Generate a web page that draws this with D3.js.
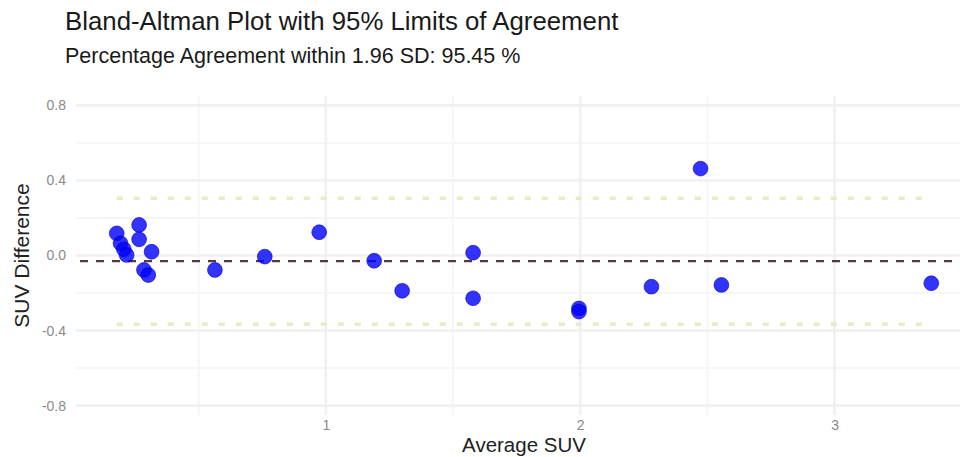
<!DOCTYPE html>
<html>
<head>
<meta charset="utf-8">
<script src="https://cdn.jsdelivr.net/npm/d3@7"></script>
<style>
  html, body { margin: 0; padding: 0; background: #ffffff; }
  svg { display: block; font-family: "Liberation Sans", Arial, Helvetica, sans-serif; }
</style>
</head>
<body>
<svg id="chart" width="960" height="457"></svg>
<script>
// Average of the two SUV measurements for each subject
const avgSUV = [0.178, 0.193, 0.206, 0.217, 0.266, 0.266, 0.315, 0.285, 0.302,
                0.564, 0.760, 0.974, 1.190, 1.300, 1.579, 1.579, 1.995, 1.995,
                2.280, 2.473, 2.555, 3.380];
// Difference between the two SUV measurements for each subject
const diffSUV = [0.118, 0.065, 0.033, 0.003, 0.163, 0.086, 0.020, -0.077, -0.104,
                 -0.077, -0.006, 0.124, -0.028, -0.188, 0.015, -0.228, -0.282, -0.299,
                 -0.166, 0.463, -0.157, -0.148];

const xTicks = [1, 2, 3];
const xMinor = [0.5, 1.5, 2.5, 3.5];
const yTicks = [-0.8, -0.4, 0, 0.4, 0.8];
const yTickLabels = ["-0.8", "-0.4", "0.0", "0.4", "0.8"];
const yMinor = [-0.6, -0.2, 0.2, 0.6];
const yLimits = [-0.85, 0.85];

const titleText = "Bland-Altman Plot with 95% Limits of Agreement";
const xTitle = "Average SUV";
const yTitle = "SUV Difference";

// Bland-Altman statistics
const meanDiff = d3.mean(diffSUV);
const sdDiff = d3.deviation(diffSUV);
const upperLoA = meanDiff + 1.96 * sdDiff;
const lowerLoA = meanDiff - 1.96 * sdDiff;
const within = diffSUV.filter(d => d >= lowerLoA && d <= upperLoA).length;
const pctWithin = (100 * within / diffSUV.length).toFixed(2);
const subtitleText = "Percentage Agreement within 1.96 SD: " + pctWithin + " %";

const svg = d3.select("#chart");
const panel = { left: 76, right: 972, top: 96, bottom: 415 };

// x domain: data extent with 5% padding on each side
const [xmin, xmax] = d3.extent(avgSUV);
const pad = (xmax - xmin) * 0.05;
const x = d3.scaleLinear().domain([xmin - pad, xmax + pad]).range([panel.left, panel.right]);
const y = d3.scaleLinear().domain(yLimits).range([panel.bottom, panel.top]);

// grid
const grid = svg.append("g");
grid.selectAll(".ymin").data(yMinor).join("line")
  .attr("x1", panel.left).attr("x2", panel.right)
  .attr("y1", d => y(d)).attr("y2", d => y(d))
  .attr("stroke", "#f6f6f6").attr("stroke-width", 2);
grid.selectAll(".xmin").data(xMinor).join("line")
  .attr("x1", d => x(d)).attr("x2", d => x(d))
  .attr("y1", panel.top).attr("y2", panel.bottom)
  .attr("stroke", "#f6f6f6").attr("stroke-width", 2);
grid.selectAll(".ymaj").data(yTicks).join("line")
  .attr("x1", panel.left).attr("x2", panel.right)
  .attr("y1", d => y(d)).attr("y2", d => y(d))
  .attr("stroke", "#f0f0f0").attr("stroke-width", 2.6);
grid.selectAll(".xmaj").data(xTicks).join("line")
  .attr("x1", d => x(d)).attr("x2", d => x(d))
  .attr("y1", panel.top).attr("y2", panel.bottom)
  .attr("stroke", "#f0f0f0").attr("stroke-width", 2.6);

// limits of agreement, drawn across the range of the averages
const loa = svg.append("g");
loa.selectAll("line").data([upperLoA, lowerLoA]).join("line")
  .attr("x1", x(xmin)).attr("x2", x(xmax))
  .attr("y1", d => y(d)).attr("y2", d => y(d))
  .attr("stroke", "#e0efc4").attr("stroke-width", 3.5)
  .attr("stroke-dasharray", "6,11");

// mean difference
svg.append("line")
  .attr("x1", panel.left).attr("x2", panel.right)
  .attr("y1", y(meanDiff)).attr("y2", y(meanDiff))
  .attr("stroke", "#583838").attr("stroke-width", 2.2)
  .attr("stroke-dasharray", "8,8").attr("stroke-dashoffset", -4);

// points
svg.append("g").selectAll("circle").data(avgSUV).join("circle")
  .attr("cx", d => x(d))
  .attr("cy", (d, i) => y(diffSUV[i]))
  .attr("r", 7.4)
  .attr("fill", "#0000ff").attr("fill-opacity", 0.8)
  .attr("stroke", "#0000c0").attr("stroke-opacity", 0.6).attr("stroke-width", 1);

// axes
const xAxis = svg.append("g")
  .attr("transform", `translate(0,${panel.bottom})`)
  .call(d3.axisBottom(x).tickValues(xTicks).tickFormat(d3.format("d")).tickSize(0).tickPadding(5));
const yAxis = svg.append("g")
  .attr("transform", `translate(${panel.left},0)`)
  .call(d3.axisLeft(y).tickValues(yTicks).tickFormat((d, i) => yTickLabels[i]).tickSize(0).tickPadding(10));
[xAxis, yAxis].forEach(a => {
  a.select(".domain").remove();
  a.selectAll("text")
    .attr("font-family", "Liberation Sans, Arial, sans-serif")
    .attr("font-size", 14).attr("fill", "#8a8a8a");
});

// titles
svg.append("text").attr("x", 65).attr("y", 30)
  .attr("font-size", 25.8).attr("fill", "#1a1a1a").text(titleText);
svg.append("text").attr("x", 65).attr("y", 63)
  .attr("font-size", 21.5).attr("fill", "#1a1a1a").text(subtitleText);

svg.append("text")
  .attr("x", (panel.left + panel.right) / 2).attr("y", 452)
  .attr("text-anchor", "middle").attr("font-size", 20.5).attr("fill", "#222")
  .text(xTitle);
svg.append("text")
  .attr("transform", `translate(29,${(panel.top + panel.bottom) / 2}) rotate(-90)`)
  .attr("text-anchor", "middle").attr("font-size", 21).attr("fill", "#222")
  .text(yTitle);
</script>
</body>
</html>
